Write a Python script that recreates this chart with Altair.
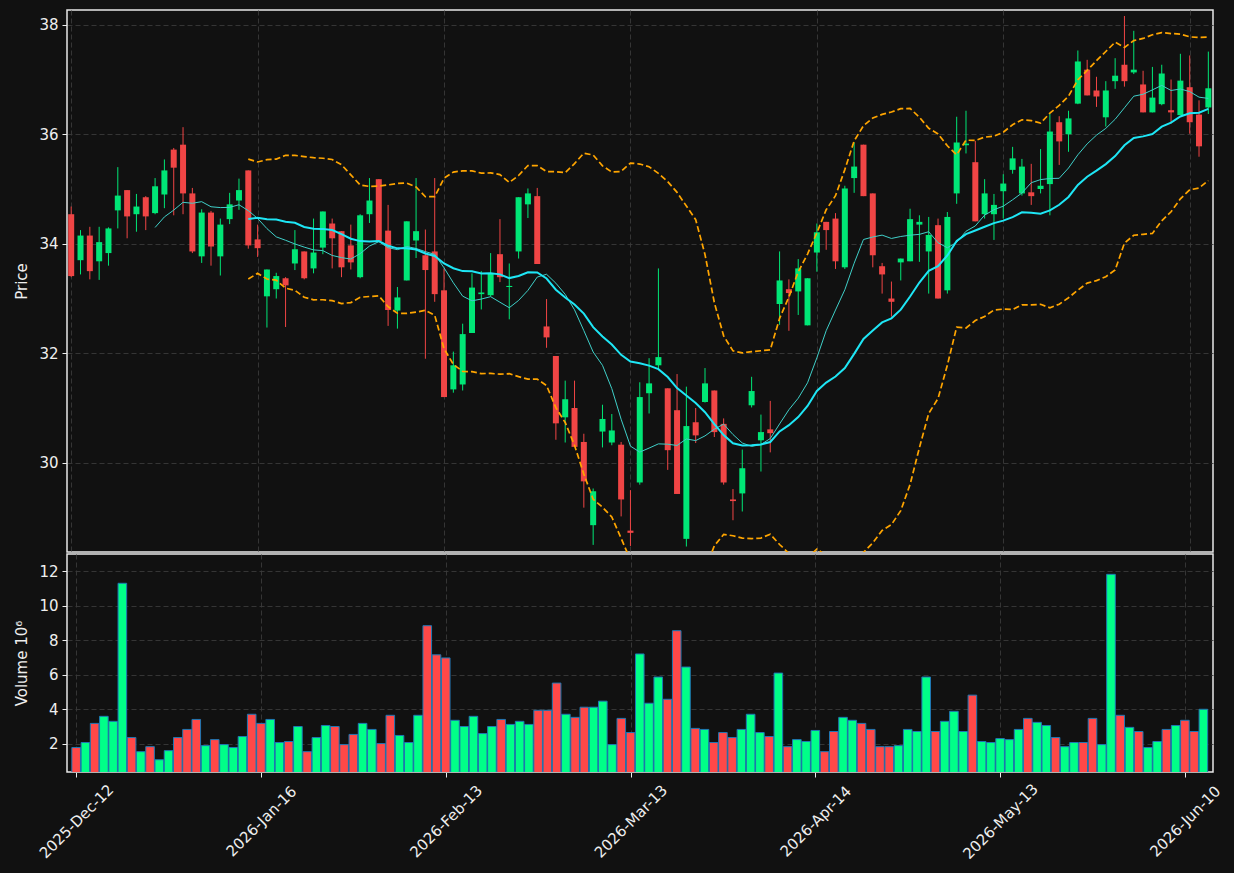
import altair as alt
import pandas as pd

FONT = "DejaVu Sans"
BG = "#111111"
FG = "#eeeeee"

opens = [34.54, 33.70, 34.15, 33.68, 33.83, 34.61, 34.98, 34.54, 34.85, 34.56,
         34.90, 35.72, 35.81, 34.92, 33.77, 34.57, 33.77, 34.45, 34.79, 35.34,
         34.08, 33.04, 33.17, 33.37, 33.64, 33.86, 33.55, 33.93, 34.37, 34.23,
         33.97, 33.39, 34.54, 35.18, 34.24, 32.78, 33.33, 34.06, 33.79, 33.86,
         33.15, 31.34, 31.43, 32.37, 33.08, 33.06, 33.81, 33.21, 33.86, 34.72,
         34.87, 32.49, 31.95, 30.83, 31.00, 30.38, 28.86, 30.57, 30.37, 30.33,
         28.76, 29.64, 31.27, 31.78, 31.36, 30.96, 28.61, 30.74, 31.11, 31.32,
         30.71, 29.33, 29.44, 31.05, 30.41, 30.61, 32.90, 33.17, 33.13, 32.51,
         33.84, 34.40, 34.46, 33.57, 35.20, 35.81, 34.92, 33.59, 33.00, 33.66,
         33.68, 34.35, 33.86, 34.34, 33.15, 34.92, 35.80, 35.49, 34.54, 34.54,
         34.96, 35.35, 34.92, 34.94, 35.00, 35.09, 36.22, 36.00, 36.56, 37.18,
         36.80, 36.31, 36.97, 37.27, 37.13, 36.91, 36.40, 36.55, 36.44, 36.35,
         36.86, 36.36, 36.49]
highs = [34.68, 34.25, 34.31, 34.31, 34.30, 35.40, 34.98, 34.91, 34.87, 35.20,
         35.54, 35.75, 36.13, 35.02, 34.63, 34.60, 34.46, 34.93, 35.19, 35.34,
         34.35, 33.53, 33.47, 33.39, 34.25, 33.86, 34.46, 34.59, 34.46, 34.23,
         34.35, 34.54, 35.20, 35.18, 34.71, 33.21, 34.41, 35.20, 34.26, 35.20,
         33.55, 32.03, 32.54, 33.46, 33.50, 33.83, 34.45, 33.64, 34.85, 35.01,
         35.02, 32.99, 31.95, 31.50, 31.50, 30.53, 29.53, 31.06, 30.89, 30.38,
         29.50, 31.47, 31.91, 33.55, 31.36, 31.62, 31.39, 31.00, 31.73, 31.32,
         30.81, 29.52, 30.24, 31.57, 30.88, 31.13, 33.86, 33.35, 33.72, 33.37,
         34.37, 34.40, 34.56, 35.06, 35.85, 35.81, 34.92, 33.65, 33.31, 33.73,
         34.64, 34.52, 34.49, 34.46, 34.58, 36.32, 36.43, 35.88, 35.18, 34.91,
         35.27, 35.77, 35.55, 35.46, 35.73, 36.37, 36.33, 36.43, 37.53, 37.36,
         37.05, 36.97, 37.39, 38.16, 37.89, 37.16, 37.23, 37.27, 37.00, 37.47,
         37.44, 36.62, 37.51]
lows = [33.39, 33.44, 33.35, 33.34, 33.60, 34.28, 34.10, 34.22, 34.25, 34.54,
        34.65, 34.52, 34.54, 33.83, 33.65, 33.60, 33.42, 34.36, 34.62, 33.91,
        33.76, 32.47, 33.00, 32.48, 33.52, 33.35, 33.46, 33.81, 33.55, 33.39,
        33.53, 33.37, 34.38, 34.05, 32.50, 32.45, 33.33, 33.74, 31.90, 32.94,
        31.20, 31.28, 31.32, 32.37, 32.80, 33.04, 33.30, 32.62, 33.73, 34.47,
        33.63, 32.10, 30.42, 30.37, 30.29, 29.18, 28.50, 30.28, 30.32, 29.02,
        28.48, 29.60, 30.90, 31.71, 29.87, 29.43, 28.47, 30.36, 31.10, 30.47,
        29.60, 28.95, 29.11, 31.01, 29.84, 30.19, 32.52, 32.41, 32.70, 32.51,
        33.49, 33.89, 33.54, 33.54, 34.93, 34.87, 33.57, 33.09, 32.67, 33.33,
        33.68, 33.67, 33.09, 33.00, 33.09, 34.73, 35.65, 34.41, 34.46, 34.07,
        34.46, 35.28, 34.88, 34.71, 34.92, 34.52, 35.44, 35.68, 36.55, 36.71,
        36.50, 36.14, 36.83, 36.87, 37.10, 36.40, 36.40, 36.53, 36.20, 36.35,
        36.01, 35.59, 36.37]
closes = [33.41, 34.15, 33.50, 34.03, 34.28, 34.88, 34.50, 34.68, 34.50, 35.05,
          35.34, 35.39, 34.92, 33.86, 34.57, 33.95, 34.35, 34.72, 34.98, 33.97,
          33.92, 33.53, 33.41, 33.24, 33.90, 33.37, 33.84, 34.59, 34.10, 33.57,
          33.66, 34.52, 34.79, 34.05, 32.79, 33.02, 34.41, 34.23, 33.52, 33.08,
          31.20, 31.78, 32.35, 33.20, 33.11, 33.46, 33.39, 33.23, 34.85, 34.92,
          33.63, 32.29, 30.72, 31.16, 30.29, 29.66, 29.48, 30.80, 30.59, 29.33,
          28.72, 31.20, 31.45, 31.93, 30.23, 29.43, 30.67, 30.50, 31.45, 30.56,
          29.64, 29.30, 29.90, 31.31, 30.56, 30.54, 33.33, 33.10, 33.55, 33.37,
          34.21, 34.25, 33.68, 35.01, 35.41, 34.87, 33.79, 33.44, 32.94, 33.73,
          34.45, 34.40, 34.16, 33.00, 34.49, 35.85, 35.83, 34.41, 34.92, 34.71,
          35.10, 35.56, 35.41, 34.87, 35.06, 36.05, 35.87, 36.29, 37.33, 36.71,
          36.69, 36.80, 37.07, 36.97, 37.18, 36.40, 36.67, 37.11, 36.40, 36.98,
          36.22, 35.78, 36.84]
volumes = [1.77, 2.06, 3.17, 3.58, 3.29, 11.30, 2.35, 1.53, 1.82, 1.06,
           1.59, 2.35, 2.82, 3.40, 1.88, 2.23, 1.94, 1.77, 2.41, 3.70,
           3.17, 3.40, 2.06, 2.12, 2.99, 1.53, 2.35, 3.05, 2.99, 1.94,
           2.53, 3.17, 2.82, 2.00, 3.64, 2.47, 2.06, 3.64, 8.84, 7.15,
           6.97, 3.35, 2.99, 3.58, 2.58, 2.99, 3.40, 3.11, 3.29, 3.11,
           3.93, 3.93, 5.51, 3.70, 3.52, 4.11, 4.11, 4.46, 1.94, 3.46,
           2.64, 7.20, 4.34, 5.86, 4.57, 8.55, 6.44, 2.88, 2.82, 2.06,
           2.64, 2.35, 2.82, 3.70, 2.64, 2.41, 6.09, 1.82, 2.23, 2.12,
           2.76, 1.53, 2.70, 3.52, 3.35, 3.17, 2.82, 1.82, 1.82, 1.88,
           2.82, 2.70, 5.86, 2.70, 3.29, 3.87, 2.70, 4.81, 2.12, 2.06,
           2.29, 2.23, 2.82, 3.46, 3.23, 3.05, 2.35, 1.82, 2.06, 2.06,
           3.46, 1.94, 11.82, 3.64, 2.94, 2.70, 1.77, 2.12, 2.82, 3.05,
           3.35, 2.70, 3.99]
tick_idx = [0, 20, 40, 60, 80, 100, 120]
tick_labels = ["2025-Dec-12", "2026-Jan-16", "2026-Feb-13", "2026-Mar-13",
               "2026-Apr-14", "2026-May-13", "2026-Jun-10"]
price_ticks = [30, 32, 34, 36, 38]
volume_ticks = [2, 4, 6, 8, 10, 12]

UP, DOWN = "#00e676", "#f04545"
VUP, VDOWN = "#00ff88", "#ff4848"

df = pd.DataFrame({"i": list(range(len(closes))), "open": opens, "high": highs,
                   "low": lows, "close": closes, "volume": volumes})

W = 1146
xscale = alt.Scale(domain=[-0.45, 122.5], nice=False, zero=False)
label_expr = " : ".join(f"datum.value == {v} ? '{t}'" for v, t in zip(tick_idx, tick_labels)) + " : ''"

ax_common = dict(labelFont=FONT, titleFont=FONT, labelFontSize=15, titleFontSize=15,
                 labelColor=FG, titleColor=FG, tickColor=FG, gridColor="#3a3a3a",
                 gridDash=[5, 3], gridWidth=0.9, domain=False, titleFontWeight="normal")

x_top = alt.X("i:Q", scale=xscale, title=None,
              axis=alt.Axis(values=tick_idx, labels=False, ticks=False, grid=True, **ax_common))
pscale = alt.Scale(domain=[28.37, 38.27], nice=False, zero=False)
p_axis = alt.Axis(values=price_ticks, title="Price", tickSize=5, labelPadding=4,
                  titlePadding=9, grid=True, **ax_common)

col_cond = alt.condition("datum.close >= datum.open", alt.value(UP), alt.value(DOWN))
base = alt.Chart(df)

wicks = base.mark_rule(strokeWidth=1, clip=True).encode(
    x=x_top, y=alt.Y("low:Q", scale=pscale, axis=p_axis), y2="high:Q", color=col_cond)
bodies = base.transform_calculate(
    bt="max(datum.open, datum.close)", bb="min(datum.open, datum.close)"
).mark_rule(strokeWidth=6, strokeCap="butt", clip=True).encode(
    x=x_top, y=alt.Y("bb:Q", scale=pscale, axis=p_axis), y2="bt:Q", color=col_cond)

ind = base.transform_window(
    sma20="mean(close)", sd20="stdevp(close)", cnt20="count()",
    frame=[-19, 0], sort=[alt.SortField("i")]
).transform_window(
    sma10="mean(close)", cnt10="count()", frame=[-9, 0], sort=[alt.SortField("i")]
).transform_calculate(
    upper="datum.sma20 + 2*datum.sd20", lower="datum.sma20 - 2*datum.sd20")

sma10 = ind.transform_filter("datum.cnt10 >= 10").mark_line(
    color="#3fcfc8", strokeWidth=1, clip=True).encode(
    x=x_top, y=alt.Y("sma10:Q", scale=pscale, axis=p_axis))
b20 = ind.transform_filter("datum.cnt20 >= 20")
sma20 = b20.mark_line(color="#1ee6f5", strokeWidth=2, clip=True).encode(
    x=x_top, y=alt.Y("sma20:Q", scale=pscale, axis=p_axis))
upper = b20.mark_line(color="#ffa500", strokeWidth=1.7, strokeDash=[6, 3], clip=True).encode(
    x=x_top, y=alt.Y("upper:Q", scale=pscale, axis=p_axis))
lower = b20.mark_line(color="#ffa500", strokeWidth=1.7, strokeDash=[6, 3], clip=True).encode(
    x=x_top, y=alt.Y("lower:Q", scale=pscale, axis=p_axis))

price = alt.layer(wicks, bodies, sma10, sma20, upper, lower).properties(width=W, height=542)

vol = base.mark_bar(size=8.6, stroke="#1f77b4", strokeWidth=1, clip=True).encode(
    x=alt.X("i:Q", scale=xscale, title=None,
            axis=alt.Axis(values=tick_idx, labelExpr=label_expr, labelAngle=315,
                          labelAlign="center", labelBaseline="middle", labelPadding=44,
                          tickSize=5, grid=True, **ax_common)),
    y=alt.Y("volume:Q", scale=alt.Scale(domain=[0.35, 13.0], nice=False, zero=False),
            axis=alt.Axis(values=volume_ticks, title="Volume  10⁶", tickSize=5,
                          labelPadding=4, titlePadding=9, grid=True, **ax_common)),
    y2=alt.datum(0),
    color=alt.condition("datum.close >= datum.open", alt.value(VUP), alt.value(VDOWN)),
).properties(width=W, height=218)

chart = alt.vconcat(price, vol, spacing=0).resolve_scale(y="independent").properties(
    background=BG,
    padding={"left": 14, "top": 9, "right": 10, "bottom": 14},
).configure_view(stroke="#e8e8e8", strokeWidth=1.5)

chart.save("out.html", embed_options={"renderer": "svg", "actions": False})
